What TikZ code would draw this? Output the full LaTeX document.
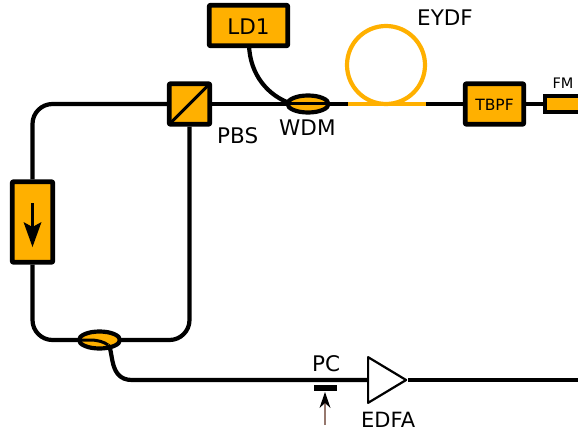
\documentclass[tikz,border=0pt]{standalone}
\usepackage{fontspec}
\setmainfont{DejaVu Sans}
\definecolor{amb}{RGB}{255,176,0}
\definecolor{pcarrow}{RGB}{150,120,110}
\usetikzlibrary{shapes.geometric}
\tikzset{
  fib/.style={line width=4.2pt,black},
  comp/.style={draw=black,line width=4.7pt,fill=amb,rounded corners=0.8pt,inner sep=0pt,minimum width=#1},
  lab/.style={inner sep=0pt,text=black},
  coupler/.style={ellipse,draw=black,line width=4.2pt,fill=amb,minimum width=41pt,minimum height=17pt,inner sep=0pt}
}
\begin{document}
\begin{tikzpicture}[x=1pt,y=-1pt,line join=round]
\useasboundingbox (0,0) rectangle (578,433);
% nodes
\node[comp=78.5pt,minimum height=40.5pt] (ld) at (248.5,25.5) {};
\node[lab,font=\fontsize{21.5}{21.5}\selectfont] at (248.5,26.5) {LD1};
\node[comp=40.5pt,minimum height=40.5pt] (pbs) at (189.5,104) {};
\node[comp=40.5pt,minimum height=80.5pt] (iso) at (32.5,222) {};
\node[comp=58.5pt,minimum height=40.5pt] (tbpf) at (494.5,104) {};
\node[lab,font=\fontsize{15.5}{15.5}\selectfont] at (494.5,104.5) {TBPF};
\coordinate (fmL) at (545,104);
\coordinate (wr) at (348,104);
\coordinate (el) at (426,104);
\coordinate (cl) at (79,340);
\coordinate (cr) at (120,340);
\coordinate (out) at (578,380);
\coordinate (drop) at (108,345);
\coordinate (pcin) at (325,425);
\coordinate (ldw) at (292,104);
% fibres
\draw[fib,rounded corners=20pt] (pbs.west) -- (32.5,104) -- (iso.north);
\draw[fib,rounded corners=20pt] (iso.south) -- (32.5,340) -- (cl);
\draw[fib,rounded corners=20pt] (cr) -- (189.5,340) -- (pbs.south);
\draw[fib] (pbs.east) -- (290,104);
\draw[fib] (326,104) -- (wr);
\draw[fib] (el) -- (tbpf.west);
\draw[fib] (tbpf.east) -- (fmL);
\draw[fib] (249,45) .. controls (250,75) and (268,96) .. (ldw);
% EYDF
\draw[amb,line width=4.2pt] (386,65) circle (39);
\draw[amb,line width=4.2pt] (wr) -- (el);
% WDM
\node[coupler] (wdm) at (308,104) {};
\draw[line width=3pt] (wdm.west) -- (wdm.east);
% lower coupler
\node[coupler] (cp) at (99.5,340) {};
\draw[line width=3pt] (cp.west) -- (90,340) .. controls (98,340) and (104,342) .. (drop);
\node[draw=black,line width=2.2pt,fill=white,isosceles triangle,isosceles triangle apex angle=62,minimum height=38pt,inner sep=0pt,anchor=west] (edfa) at (367,380) {};
\draw[fib] (drop) .. controls (114,350) and (108,380) .. (132,380) -- (edfa.west);
\draw[fib] (edfa.apex) -- (out);
% isolator arrow
\draw[line width=3.2pt] (32.5,203) -- (32.5,228);
\fill (23.5,222) -- (32.5,227) -- (41.5,222) -- (32.5,247) -- cycle;
% FM
\fill[black] (543,94) rectangle (578,114);
\fill[amb] (547,98) rectangle (578,110);
\node[lab,font=\fontsize{14.5}{14.5}\selectfont] (fm) at (563,83) {FM};
% PBS diagonal
\draw[line width=3pt] ([shift={(3,-3)}]pbs.south west) -- ([shift={(-3,3)}]pbs.north east);
% PC
\fill (314,385) rectangle (337,391);
\draw[line width=1.3pt,draw=pcarrow] (pcin) -- (325,402);
\fill (325,392) -- (330.5,408) -- (325,403) -- (319.5,408) -- cycle;
% labels
\node[lab,font=\fontsize{21.5}{21.5}\selectfont,anchor=west] at (417,18) {EYDF};
\node[lab,font=\fontsize{21.5}{21.5}\selectfont,anchor=west] at (217,136) {PBS};
\node[lab,font=\fontsize{21.5}{21.5}\selectfont,anchor=west] at (279,128) {WDM};
\node[lab,font=\fontsize{21.5}{21.5}\selectfont,anchor=west] at (312,364) {PC};
\node[lab,font=\fontsize{21}{21}\selectfont,anchor=west] at (361,420) {EDFA};
\end{tikzpicture}
\end{document}
